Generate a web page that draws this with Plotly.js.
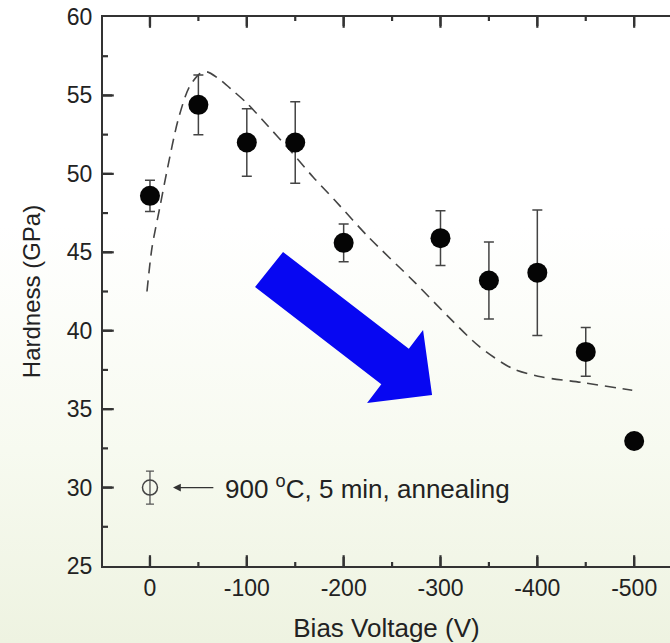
<!DOCTYPE html>
<html>
<head>
<meta charset="utf-8">
<script src="https://cdn.plot.ly/plotly-3.0.1.min.js"></script>
<style>
  html, body { margin: 0; padding: 0; }
  body { width: 670px; height: 643px; overflow: hidden;
         background: linear-gradient(to bottom, #ffffff 0%, #ffffff 35%, #f7faf0 70%, #eef3e1 100%); }
  #chart { width: 670px; height: 643px; }
</style>
</head>
<body>
<div id="chart"></div>
<script>
// Measured hardness data
var biasVoltage = [0, -50, -100, -150, -200, -300, -350, -400, -450, -500];
var hardness    = [48.6, 54.4, 52.0, 52.0, 45.6, 45.9, 43.2, 43.7, 38.65, 32.97];
var hardnessErr = [1.0, 1.9, 2.15, 2.6, 1.2, 1.75, 2.45, 4.0, 1.55, 0];

// Annealed sample
var annealX = [0];
var annealY = [30.0];
var annealErr = [1.05];

// Dashed guide curve
var curveX = [3.1, -2.1, -10.3, -17.6, -28.9, -40.3, -51.7, -58.9, -70.2, -85.7, -100.2, -116.7,
              -144.6, -168.4, -191.1, -225.2, -274, -308, -340, -374, -405, -446, -498];
var curveY = [42.5, 45.3, 47.9, 50.2, 53.4, 55.5, 56.4, 56.5, 56.1, 55.3, 54.5, 53.4,
              51.5, 49.8, 48.3, 46.0, 43.05, 40.9, 39.0, 37.6, 37.05, 36.7, 36.2];

// Tick labels
var xTickVals = [0, -100, -200, -300, -400, -500];
var xTickText = ['0', '-100', '-200', '-300', '-400', '-500'];
var xMinorVals = [-50, -150, -250, -350, -450];
var yTickVals = [25, 30, 35, 40, 45, 50, 55, 60];
var yTickText = ['25', '30', '35', '40', '45', '50', '55', '60'];
var yMinorVals = [27.5, 32.5, 37.5, 42.5, 47.5, 52.5, 57.5];

// Big blue trend arrow outline (data coordinates)
var trendArrowX = [-108.5, -137.4, -267.3, -282.0, -291.3, -224.2, -238.9];
var trendArrowY = [42.79, 45.02, 38.85, 40.05, 35.90, 35.39, 36.58];

var annText = '900 <sup>o</sup>C, 5 min, annealing';

var pathStr = trendArrowX.map(function (x, i) {
  return (i === 0 ? 'M ' : 'L ') + x + ' ' + trendArrowY[i];
}).join(' ') + ' Z';

var FONT = 'Liberation Sans, Arial, Helvetica, sans-serif';
var AX = '#333333';
var X_RANGE = [48.5, -537];
var Y_RANGE = [25, 60];
var PLOT_W = 670 - 103, PLOT_H = 643 - 17 - 77;
var xPerPx = (X_RANGE[0] - X_RANGE[1]) / PLOT_W;
var yPerPx = (Y_RANGE[1] - Y_RANGE[0]) / PLOT_H;

// Major tick marks as marker traces ('line' symbols), offset half a tick inward from each axis line
var MAJ = 9;
var majXBottom = xTickVals.map(function () { return Y_RANGE[0] + (MAJ / 2) * yPerPx; });
var majXTop = xTickVals.map(function () { return Y_RANGE[1] - (MAJ / 2) * yPerPx; });
var yInner = yTickVals.filter(function (v) { return v > Y_RANGE[0] && v < Y_RANGE[1]; });
var majYLeft = yInner.map(function () { return X_RANGE[0] - (MAJ / 2) * xPerPx; });

var traces = [
  {
    x: curveX, y: curveY, type: 'scatter', mode: 'lines',
    line: { color: '#444444', width: 1.6, dash: '11px,7px', shape: 'spline', smoothing: 0.8 },
    hoverinfo: 'skip', showlegend: false
  },
  {
    x: biasVoltage, y: hardness, type: 'scatter', mode: 'markers',
    marker: { symbol: 'circle', size: 20, color: '#050505' },
    error_y: { type: 'data', array: hardnessErr, visible: true, color: '#444444', thickness: 1.5, width: 5 },
    showlegend: false
  },
  {
    x: annealX, y: annealY, type: 'scatter', mode: 'markers',
    marker: { symbol: 'circle-open', size: 15, color: '#444444', line: { width: 1.5, color: '#444444' } },
    error_y: { type: 'data', array: annealErr, visible: true, color: '#555555', thickness: 1.3, width: 4 },
    showlegend: false
  },
  {
    x: xTickVals.concat(xTickVals), y: majXBottom.concat(majXTop), type: 'scatter', mode: 'markers',
    marker: { symbol: 'line-ns', size: MAJ, line: { width: 2.2, color: AX } },
    cliponaxis: false, hoverinfo: 'skip', showlegend: false
  },
  {
    x: majYLeft, y: yInner, type: 'scatter', mode: 'markers',
    marker: { symbol: 'line-ew', size: MAJ, line: { width: 2.2, color: AX } },
    cliponaxis: false, hoverinfo: 'skip', showlegend: false
  }
];

// Minor tick marks (and a second copy of the major ones) as shapes in data coordinates
var shapes = [{ type: 'path', xref: 'x', yref: 'y', path: pathStr, fillcolor: '#0707f2', line: { width: 0 } }];
function xTick(v, len, atTop) {
  var base = atTop ? Y_RANGE[1] : Y_RANGE[0];
  var tip = atTop ? base - len * yPerPx : base + len * yPerPx;
  shapes.push({ type: 'line', xref: 'x', yref: 'y', x0: v, x1: v, y0: base, y1: tip,
    line: { color: AX, width: 2.2 }, layer: 'above' });
}
function yTick(v, len) {
  shapes.push({ type: 'line', xref: 'x', yref: 'y', y0: v, y1: v,
    x0: X_RANGE[0], x1: X_RANGE[0] - len * xPerPx, line: { color: AX, width: 2.2 }, layer: 'above' });
}
xTickVals.forEach(function (v) { xTick(v, MAJ, false); xTick(v, MAJ, true); });
xMinorVals.forEach(function (v) { xTick(v, 4, false); xTick(v, 4, true); });
yInner.forEach(function (v) { yTick(v, MAJ); });
yMinorVals.forEach(function (v) { yTick(v, 5); });

var layout = {
  width: 670, height: 643,
  margin: { l: 103, r: 0, t: 17, b: 77, pad: 0 },
  paper_bgcolor: 'rgba(0,0,0,0)',
  plot_bgcolor: 'rgba(0,0,0,0)',
  font: { family: FONT, color: '#222222', size: 23 },
  showlegend: false,
  xaxis: {
    range: X_RANGE,
    tickmode: 'array', tickvals: xTickVals, ticktext: xTickText,
    ticks: '', showline: true, linecolor: AX, linewidth: 2, mirror: true,
    showgrid: false, zeroline: false,
    tickfont: { family: FONT, size: 23, color: '#222222' },
    title: { text: 'Bias Voltage (V)', font: { family: FONT, size: 26, color: '#222222' }, standoff: 20 }
  },
  yaxis: {
    range: Y_RANGE,
    tickmode: 'array', tickvals: yTickVals, ticktext: yTickText,
    ticks: '', showline: true, linecolor: AX, linewidth: 2, mirror: false,
    showgrid: false, zeroline: false,
    tickfont: { family: FONT, size: 23, color: '#222222' },
    ticklabelstandoff: 4,
    title: { text: 'Hardness (GPa)', font: { family: FONT, size: 24, color: '#222222' }, standoff: 19 }
  },
  shapes: shapes,
  annotations: [
    { x: -23.8, y: 30, xref: 'x', yref: 'y', ax: -67, ay: 30, axref: 'x', ayref: 'y',
      text: '', showarrow: true, arrowhead: 2, arrowsize: 1.2, arrowwidth: 1.3, arrowcolor: AX },
    { x: -75.4, y: 30, xref: 'x', yref: 'y', xanchor: 'left', yanchor: 'middle',
      text: annText, showarrow: false, font: { family: FONT, size: 26, color: '#222222' } }
  ]
};

Plotly.newPlot('chart', traces, layout, { displayModeBar: false, staticPlot: true });
</script>
</body>
</html>
